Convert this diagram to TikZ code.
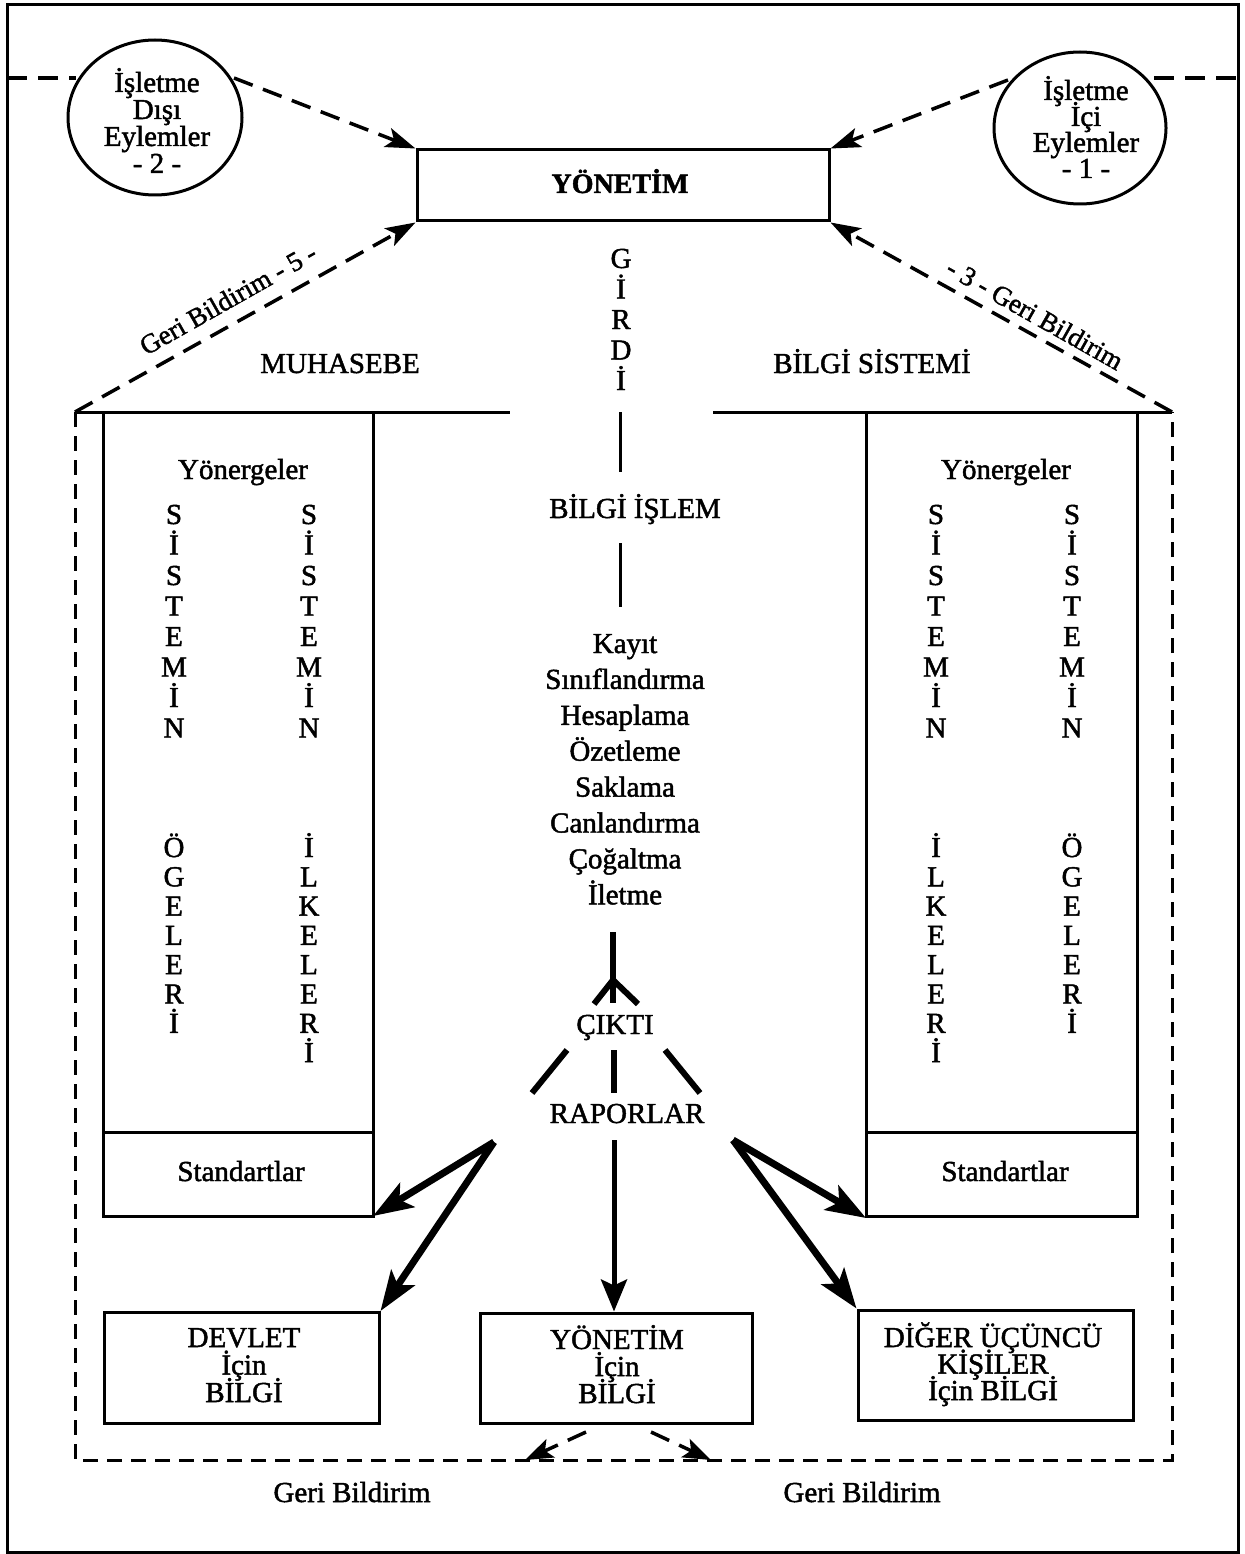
\documentclass[tikz,border=0pt]{standalone}
\usepackage{fontspec}
\setmainfont{Liberation Serif}[RawFeature={embolden=1.6}]
\usetikzlibrary{arrows.meta,shapes.geometric}

% a vertical column of single letters: x, first baseline, step, name, letters
\newcommand\lettercol[5]{%
  \foreach \ch [count=\i] in {#5}
    \node[lbl] (#4-\i) at (#1,{#2+(\i-1)*#3}) {\ch};}

\begin{document}
\begin{tikzpicture}[x=1pt,y=-1pt,
  lbl/.style={inner sep=0pt, anchor=base, text height=20pt, text depth=4pt,
    font=\fontsize{29}{34}\selectfont},
  slbl/.style={inner sep=0pt, text height=19pt, text depth=5pt,
    font=\fontsize{27}{32}\selectfont},
  frameline/.style={line width=3pt},
  boxline/.style={line width=3pt},
  dashframe/.style={line width=3pt, dash pattern=on 15pt off 9pt},
  fbline/.style={line width=3.5pt, dash pattern=on 20pt off 11pt},
  fbarrow/.style={fbline, -{Stealth[length=30pt,width=20pt,inset=7pt]}},
  smallfb/.style={fbline, -{Stealth[length=28pt,width=20pt,inset=6pt]}},
  bigarrow/.style={line width=7pt, -{Stealth[length=40pt,width=28pt,inset=9pt]}},
  midarrow/.style={line width=5pt, -{Stealth[length=32pt,width=26pt,inset=6pt]}},
  thick bar/.style={line width=6pt},
  circ/.style={ellipse, draw, line width=3pt, inner sep=0pt},
]
\useasboundingbox (0,0) rectangle (1244,1554);

% outer frame
\draw[frameline] (7,5) rectangle (1238,1552);

% external and internal event circles
\node[circ, minimum width=174pt, minimum height=155pt] (c2) at (155,117.5) {};
\foreach \t [count=\i] in {İşletme,Dışı,Eylemler,- 2 -}
  \node[lbl] (c2t\i) at (157,{92+(\i-1)*27}) {\t};
\node[circ, minimum width=172pt, minimum height=152pt] (c1) at (1080,128) {};
\foreach \t [count=\i] in {İşletme,İçi,Eylemler,- 1 -}
  \node[lbl] (c1t\i) at (1086,{100+(\i-1)*26}) {\t};

\coordinate (fl) at (7,78);
\coordinate (fr) at (1238,78);
\coordinate (c2w) at (76,78);
\coordinate (c2e) at (234,78);
\coordinate (c1w) at (1008,80);
\coordinate (c1e) at (1154,78);

% management box
\node[draw, boxline, minimum width=412pt, minimum height=71pt, inner sep=0pt]
  (yon) at (623,185.5) {};
\node[lbl, font=\fontsize{28}{34}\selectfont\bfseries] (yont) at (620,193) {YÖNETİM};

\draw[fbline] (fl) -- (c2w);
\draw[fbline] (c1e) -- (fr);
\draw[fbarrow] (c2e) -- (yon.north west);
\draw[fbarrow] (c1w) -- (yon.north east);

% system frame corners
\coordinate (tl) at (75,412);
\coordinate (tr) at (1172,412);
\coordinate (bl) at (75,1460);
\coordinate (br) at (1172,1460);

% feedback lines to management
\draw[fbarrow] (tl) -- (yon.south west);
\draw[fbarrow] (tr) -- (yon.south east);
\node[slbl, rotate=29.5] (fb5) at (229,301) {Geri Bildirim - 5 -};
\node[slbl, rotate=-29.5] (fb3) at (1034,316) {- 3 - Geri Bildirim};

% accounting information system frame
\draw[frameline] (tl) -- (510,412);
\draw[frameline] (713,412) -- (tr);
\draw[dashframe] (tl) -- (bl) -- (br) -- (tr);

\node[lbl] (muh) at (340,373) {MUHASEBE};
\node[lbl] (bs) at (872,373) {BİLGİ SİSTEMİ};

% left column box
\draw[boxline] (103,412) rectangle (373,1216);
\draw[boxline] (103,1132) -- (373,1132);
\node[lbl] (yl) at (243,479) {Yönergeler};
\node[lbl] (sl) at (241,1181) {Standartlar};
\lettercol{174}{524}{30.5}{la}{S,İ,S,T,E,M,İ,N}
\lettercol{174}{857}{29.3}{lb}{Ö,G,E,L,E,R,İ}
\lettercol{309}{524}{30.5}{lc}{S,İ,S,T,E,M,İ,N}
\lettercol{309}{857}{29.3}{ld}{İ,L,K,E,L,E,R,İ}

% right column box
\draw[boxline] (866,412) rectangle (1137,1216);
\draw[boxline] (866,1132) -- (1137,1132);
\node[lbl] (yr) at (1006,479) {Yönergeler};
\node[lbl] (sr) at (1005,1181) {Standartlar};
\lettercol{936}{524}{30.5}{ra}{S,İ,S,T,E,M,İ,N}
\lettercol{936}{857}{29.3}{rb}{İ,L,K,E,L,E,R,İ}
\lettercol{1072}{524}{30.5}{rc}{S,İ,S,T,E,M,İ,N}
\lettercol{1072}{857}{29.3}{rd}{Ö,G,E,L,E,R,İ}

% input and processing
\lettercol{621}{268}{30.5}{gi}{G,İ,R,D,İ}
\draw[boxline] (620,412) -- (620,472);
\node[lbl] (bi) at (635,518) {BİLGİ İŞLEM};
\draw[boxline] (620,543) -- (620,607);
\foreach \t [count=\i] in {Kayıt,Sınıflandırma,Hesaplama,Özetleme,Saklama,Canlandırma,Çoğaltma,İletme}
  \node[lbl] (op\i) at (625,{653+(\i-1)*35.9}) {\t};

% output
\draw[thick bar] (613,932) -- (613,1003);
\draw[thick bar] (594,1004) -- (613,980) -- (638,1004);
\node[lbl] (ck) at (615,1034) {ÇIKTI};
\draw[thick bar] (532,1093) -- (567,1050);
\draw[thick bar] (614,1050) -- (614,1093);
\draw[thick bar] (665,1050) -- (700,1093);
\node[lbl] (rp) at (627,1123) {RAPORLAR};

% receivers
\node[draw, boxline, minimum width=275pt, minimum height=111pt, inner sep=0pt] (dv) at (241.5,1368) {};
\foreach \t [count=\i] in {DEVLET,İçin,BİLGİ}
  \node[lbl] (dvt\i) at (244,{1347+(\i-1)*27.5}) {\t};
\node[draw, boxline, minimum width=272pt, minimum height=110pt, inner sep=0pt] (ym) at (616,1368) {};
\foreach \t [count=\i] in {YÖNETİM,İçin,BİLGİ}
  \node[lbl] (ymt\i) at (617,{1349+(\i-1)*27}) {\t};
\node[draw, boxline, minimum width=275pt, minimum height=110pt, inner sep=0pt] (dg) at (995.5,1365) {};
\foreach \t [count=\i] in {DİĞER ÜÇÜNCÜ,KİŞİLER,İçin BİLGİ}
  \node[lbl] (dgt\i) at (993,{1347+(\i-1)*26.5}) {\t};

% report distribution
\coordinate (rpl) at (494,1142);
\coordinate (rpm) at (614,1140);
\coordinate (rpr) at (733,1140);
\draw[bigarrow] (rpl) -- (373,1216);
\draw[bigarrow] (rpl) -- (dv.north east);
\draw[midarrow] (rpm) -- (ym.north -| rpm);
\draw[bigarrow] (rpr) -- (866,1218);
\draw[bigarrow] (rpr) -- (dg.north west);

% feedback from management information
\coordinate (ymfl) at (586,1432);
\coordinate (ymfr) at (651,1432);
\draw[smallfb] (ymfl) -- (525,1460);
\draw[smallfb] (ymfr) -- (711,1460);
\node[lbl] (gbl) at (352,1502) {Geri Bildirim};
\node[lbl] (gbr) at (862,1502) {Geri Bildirim};
\end{tikzpicture}
\end{document}
